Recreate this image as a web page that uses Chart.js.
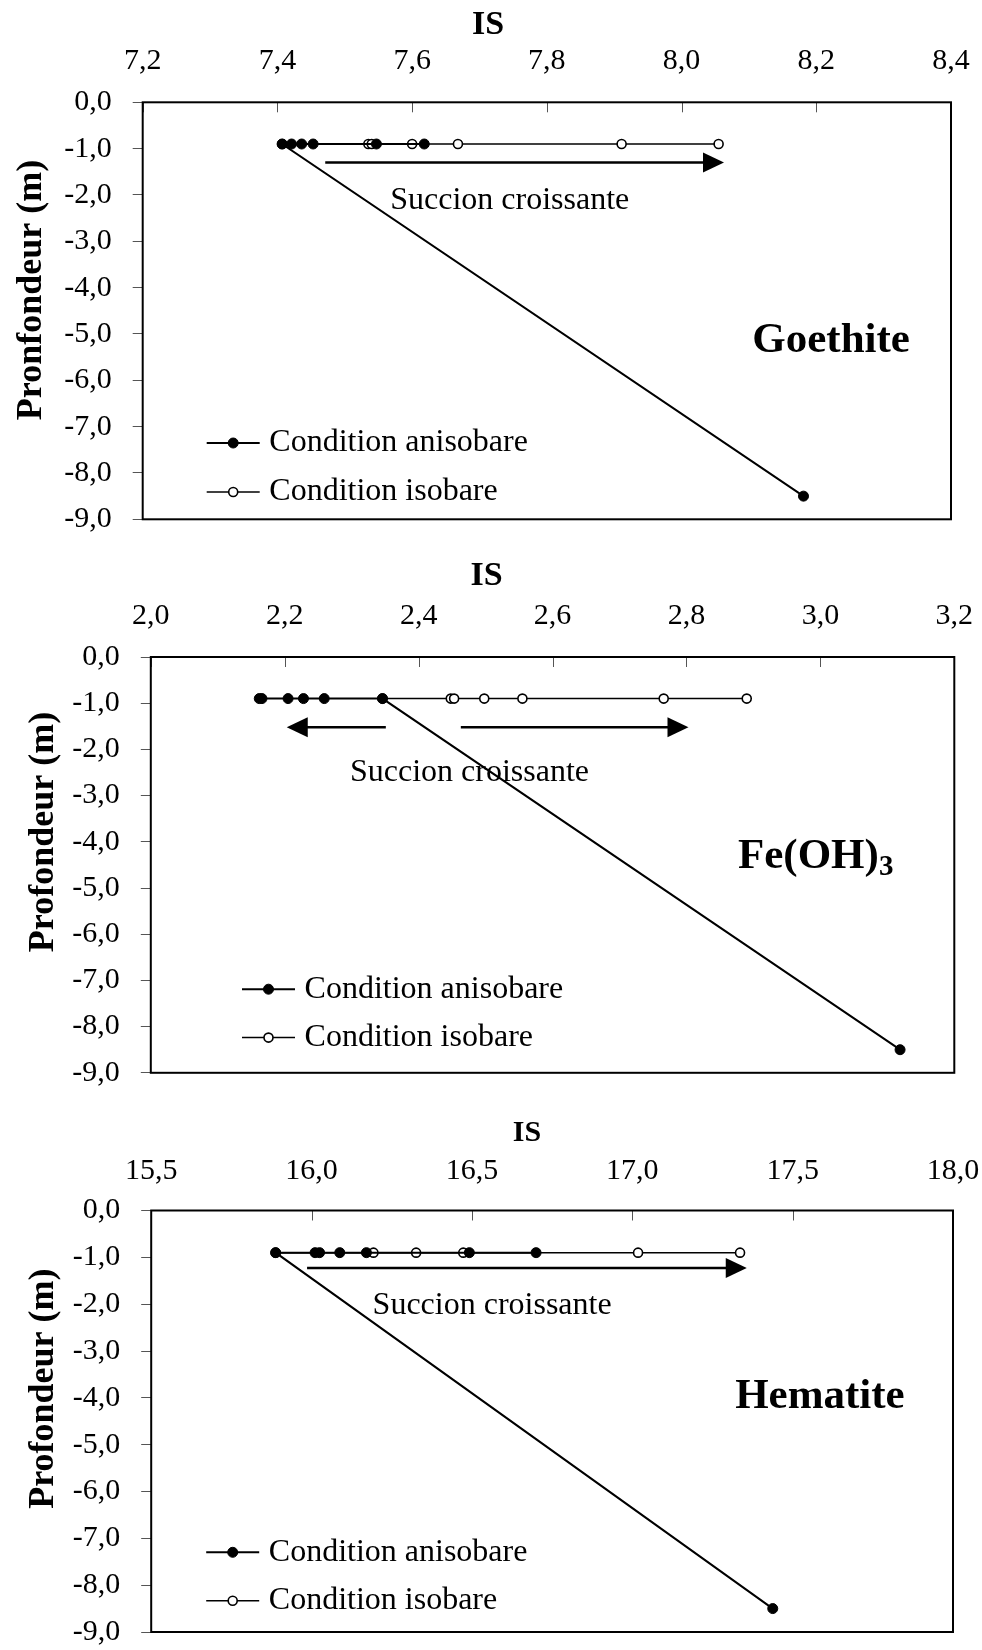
<!DOCTYPE html>
<html>
<head>
<meta charset="utf-8">
<script src="https://cdn.jsdelivr.net/npm/chart.js@4.4.1/dist/chart.umd.min.js"></script>
<style>
  html, body { margin: 0; padding: 0; background: #fff; overflow: hidden; }
  body { width: 982px; height: 1650px; position: relative; }
  canvas { position: absolute; left: 0; }
</style>
</head>
<body>
<canvas id="goethite" width="982" height="550" style="top:0px"></canvas>
<canvas id="feoh3" width="982" height="550" style="top:550px"></canvas>
<canvas id="hematite" width="982" height="560" style="top:1100px"></canvas>
<script>
const seriesLabels = ["Condition anisobare", "Condition isobare"];
const depthTicks = [0, -1, -2, -3, -4, -5, -6, -7, -8, -9];

// Goethite
const goethiteTicks = [7.2, 7.4, 7.6, 7.8, 8.0, 8.2, 8.4];
const goethiteAnisoIS = [8.181, 7.407, 7.421, 7.436, 7.453, 7.547, 7.618];
const goethiteAnisoDepth = [-8.5, -0.9, -0.9, -0.9, -0.9, -0.9, -0.9];
const goethiteIsoIS = [7.407, 7.535, 7.540, 7.600, 7.668, 7.911, 8.055];
const goethiteIsoDepth = [-0.9, -0.9, -0.9, -0.9, -0.9, -0.9, -0.9];

// Fe(OH)3
const feohTicks = [2.0, 2.2, 2.4, 2.6, 2.8, 3.0, 3.2];
const feohAnisoIS = [3.119, 2.346, 2.259, 2.228, 2.205, 2.166, 2.162];
const feohAnisoDepth = [-8.5, -0.9, -0.9, -0.9, -0.9, -0.9, -0.9];
const feohIsoIS = [2.346, 2.448, 2.453, 2.498, 2.555, 2.766, 2.890];
const feohIsoDepth = [-0.9, -0.9, -0.9, -0.9, -0.9, -0.9, -0.9];

// Hematite
const hematiteTicks = [15.5, 16.0, 16.5, 17.0, 17.5, 18.0];
const hematiteAnisoIS = [17.438, 15.888, 16.011, 16.025, 16.088, 16.171, 16.492, 16.700];
const hematiteAnisoDepth = [-8.5, -0.9, -0.9, -0.9, -0.9, -0.9, -0.9, -0.9];
const hematiteIsoIS = [15.888, 16.193, 16.326, 16.473, 17.018, 17.336];
const hematiteIsoDepth = [-0.9, -0.9, -0.9, -0.9, -0.9, -0.9];

const serif = '"Liberation Serif", "Times New Roman", Times, serif';
const fmt = (v) => Number(v).toFixed(1).replace(".", ",");

// layout of each panel (pixels are canvas coords, annotations in data coords)
const panels = [
  {
    id: "goethite", height: 550, ticks: goethiteTicks, tickPad: 23,
    aniso: [goethiteAnisoIS, goethiteAnisoDepth], iso: [goethiteIsoIS, goethiteIsoDepth],
    plot: { left: 142.7, right: 951, top: 102.3, bottom: 519.3 },
    decor: {
      xTitle: { x: 488, y: 25, size: 34 },
      yTitle: { x: 32, y: 290, text: "Pronfondeur (m)" },
      arrows: [[7.471, 8.063, -1.3]],
      caption: [7.745, -2.31],
      name: { text: "Goethite", sub: "", at: [8.222, -5.383] },
      legend: { x: 64, rows: [76.3, 27.3] },
    },
  },
  {
    id: "feoh3", height: 550, ticks: feohTicks, tickPad: 23,
    aniso: [feohAnisoIS, feohAnisoDepth], iso: [feohIsoIS, feohIsoDepth],
    plot: { left: 150.8, right: 954.3, top: 107, bottom: 522.8 },
    decor: {
      xTitle: { x: 486.5, y: 26, size: 34 },
      yTitle: { x: 44, y: 282, text: "Profondeur (m)" },
      arrows: [[2.351, 2.203, -1.52], [2.463, 2.803, -1.52]],
      caption: [2.476, -2.68],
      name: { text: "Fe(OH)", sub: "3", at: [2.993, -4.574] },
      legend: { x: 91.2, rows: [83.6, 35.2] },
    },
  },
  {
    id: "hematite", height: 560, ticks: hematiteTicks, tickPad: 21,
    aniso: [hematiteAnisoIS, hematiteAnisoDepth], iso: [hematiteIsoIS, hematiteIsoDepth],
    plot: { left: 151.2, right: 953, top: 110.5, bottom: 532 },
    decor: {
      xTitle: { x: 527, y: 33, size: 30 },
      yTitle: { x: 44, y: 288.7, text: "Profondeur (m)" },
      arrows: [[15.986, 17.357, -1.23]],
      caption: [16.563, -2.2],
      name: { text: "Hematite", sub: "", at: [17.585, -4.22] },
      legend: { x: 55, rows: [79.7, 31.3] },
    },
  },
];

const decorPlugin = {
  id: "decor",
  beforeDatasetsDraw(chart) {
    const { ctx, chartArea: a } = chart;
    const xs = chart.scales.x;
    ctx.save();
    // inward ticks on the top axis
    ctx.strokeStyle = "#555";
    ctx.lineWidth = 1;
    xs.ticks.forEach((t) => {
      const px = Math.round(xs.getPixelForValue(t.value)) + 0.5;
      ctx.beginPath();
      ctx.moveTo(px, a.top);
      ctx.lineTo(px, a.top + 10);
      ctx.stroke();
    });
    // plot frame
    ctx.strokeStyle = "#000";
    ctx.lineWidth = 2;
    ctx.strokeRect(a.left, a.top, a.right - a.left, a.bottom - a.top);
    ctx.restore();
  },
  afterDraw(chart, args, o) {
    const { ctx, chartArea: a } = chart;
    const xs = chart.scales.x;
    const ys = chart.scales.y;
    ctx.save();
    ctx.fillStyle = "#000";
    ctx.strokeStyle = "#000";

    // axis titles
    ctx.textAlign = "center";
    ctx.textBaseline = "middle";
    ctx.font = `bold ${o.xTitle.size}px ${serif}`;
    ctx.fillText("IS", o.xTitle.x, o.xTitle.y);
    ctx.save();
    ctx.translate(o.yTitle.x, o.yTitle.y);
    ctx.rotate(-Math.PI / 2);
    ctx.font = `bold 36px ${serif}`;
    ctx.fillText(o.yTitle.text, 0, 0);
    ctx.restore();

    // suction arrows
    o.arrows.forEach(([from, to, depth]) => {
      const x0 = xs.getPixelForValue(from);
      const x1 = xs.getPixelForValue(to);
      const y = ys.getPixelForValue(depth);
      const dir = Math.sign(x1 - x0);
      ctx.lineWidth = 2.5;
      ctx.beginPath();
      ctx.moveTo(x0, y);
      ctx.lineTo(x1 - dir * 18, y);
      ctx.stroke();
      ctx.beginPath();
      ctx.moveTo(x1, y);
      ctx.lineTo(x1 - dir * 21, y - 10);
      ctx.lineTo(x1 - dir * 21, y + 10);
      ctx.closePath();
      ctx.fill();
    });

    ctx.textBaseline = "alphabetic";
    ctx.font = `32px ${serif}`;
    ctx.fillText("Succion croissante", xs.getPixelForValue(o.caption[0]), ys.getPixelForValue(o.caption[1]));

    // mineral name
    const nm = o.name;
    ctx.font = `bold 43px ${serif}`;
    const wMain = ctx.measureText(nm.text).width;
    ctx.font = `bold 29px ${serif}`;
    const wSub = nm.sub ? ctx.measureText(nm.sub).width : 0;
    const left = xs.getPixelForValue(nm.at[0]) - (wMain + wSub) / 2;
    const base = ys.getPixelForValue(nm.at[1]);
    ctx.textAlign = "left";
    ctx.font = `bold 43px ${serif}`;
    ctx.fillText(nm.text, left, base);
    if (nm.sub) {
      ctx.font = `bold 29px ${serif}`;
      ctx.fillText(nm.sub, left + wMain, base + 7);
    }

    // legend, drawn inside the plot
    chart.data.datasets.forEach((ds, i) => {
      const y = a.bottom - o.legend.rows[i];
      const x0 = a.left + o.legend.x;
      ctx.strokeStyle = "#000";
      ctx.lineWidth = ds.borderWidth;
      ctx.beginPath();
      ctx.moveTo(x0, y);
      ctx.lineTo(x0 + 53, y);
      ctx.stroke();
      ctx.beginPath();
      ctx.arc(x0 + 26.5, y, ds.pointRadius, 0, Math.PI * 2);
      ctx.fillStyle = ds.pointBackgroundColor;
      ctx.fill();
      ctx.lineWidth = ds.pointBorderWidth;
      ctx.stroke();
      ctx.fillStyle = "#000";
      ctx.font = `32px ${serif}`;
      ctx.textBaseline = "middle";
      ctx.fillText(ds.label, x0 + 62.6, y);
    });
    ctx.restore();
  },
};

function buildChart(p) {
  const toPoints = ([xs, ys]) => xs.map((x, i) => ({ x, y: ys[i] }));
  return new Chart(document.getElementById(p.id), {
    type: "scatter",
    data: {
      datasets: [
        {
          label: seriesLabels[0],
          data: toPoints(p.aniso),
          showLine: true,
          borderColor: "#000",
          borderWidth: 2,
          pointRadius: 5,
          pointBorderWidth: 1,
          pointBackgroundColor: "#000",
          pointBorderColor: "#000",
        },
        {
          label: seriesLabels[1],
          data: toPoints(p.iso),
          showLine: true,
          borderColor: "#000",
          borderWidth: 1.5,
          pointRadius: 4.5,
          pointBorderWidth: 1.6,
          pointBackgroundColor: "#fff",
          pointBorderColor: "#000",
        },
      ],
    },
    options: {
      responsive: false,
      animation: false,
      events: [],
      layout: {
        padding: { left: 0, top: 0, right: 982 - p.plot.right, bottom: p.height - p.plot.bottom },
      },
      plugins: {
        legend: { display: false },
        tooltip: { enabled: false },
        decor: p.decor,
      },
      scales: {
        x: {
          type: "linear",
          position: "top",
          min: p.ticks[0],
          max: p.ticks[p.ticks.length - 1],
          afterBuildTicks: (s) => { s.ticks = p.ticks.map((v) => ({ value: v })); },
          afterFit: (s) => {
            s.height = p.plot.top;
            s.paddingLeft = 0;
            s.paddingRight = 0;
          },
          grid: { display: false, drawTicks: false },
          border: { display: false },
          ticks: {
            color: "#000",
            font: { family: serif, size: 30 },
            padding: p.tickPad,
            autoSkip: false,
            maxRotation: 0,
            callback: fmt,
          },
        },
        y: {
          type: "linear",
          min: -9,
          max: 0,
          afterBuildTicks: (s) => { s.ticks = depthTicks.map((v) => ({ value: v })); },
          afterFit: (s) => {
            s.width = p.plot.left;
            s.paddingTop = 0;
            s.paddingBottom = 0;
          },
          grid: { drawOnChartArea: false, drawTicks: true, tickLength: 10, color: "#555" },
          border: { display: false },
          ticks: {
            color: "#000",
            font: { family: serif, size: 30 },
            padding: 21,
            autoSkip: false,
            callback: fmt,
          },
        },
      },
    },
    plugins: [decorPlugin],
  });
}

panels.forEach(buildChart);
</script>
</body>
</html>
